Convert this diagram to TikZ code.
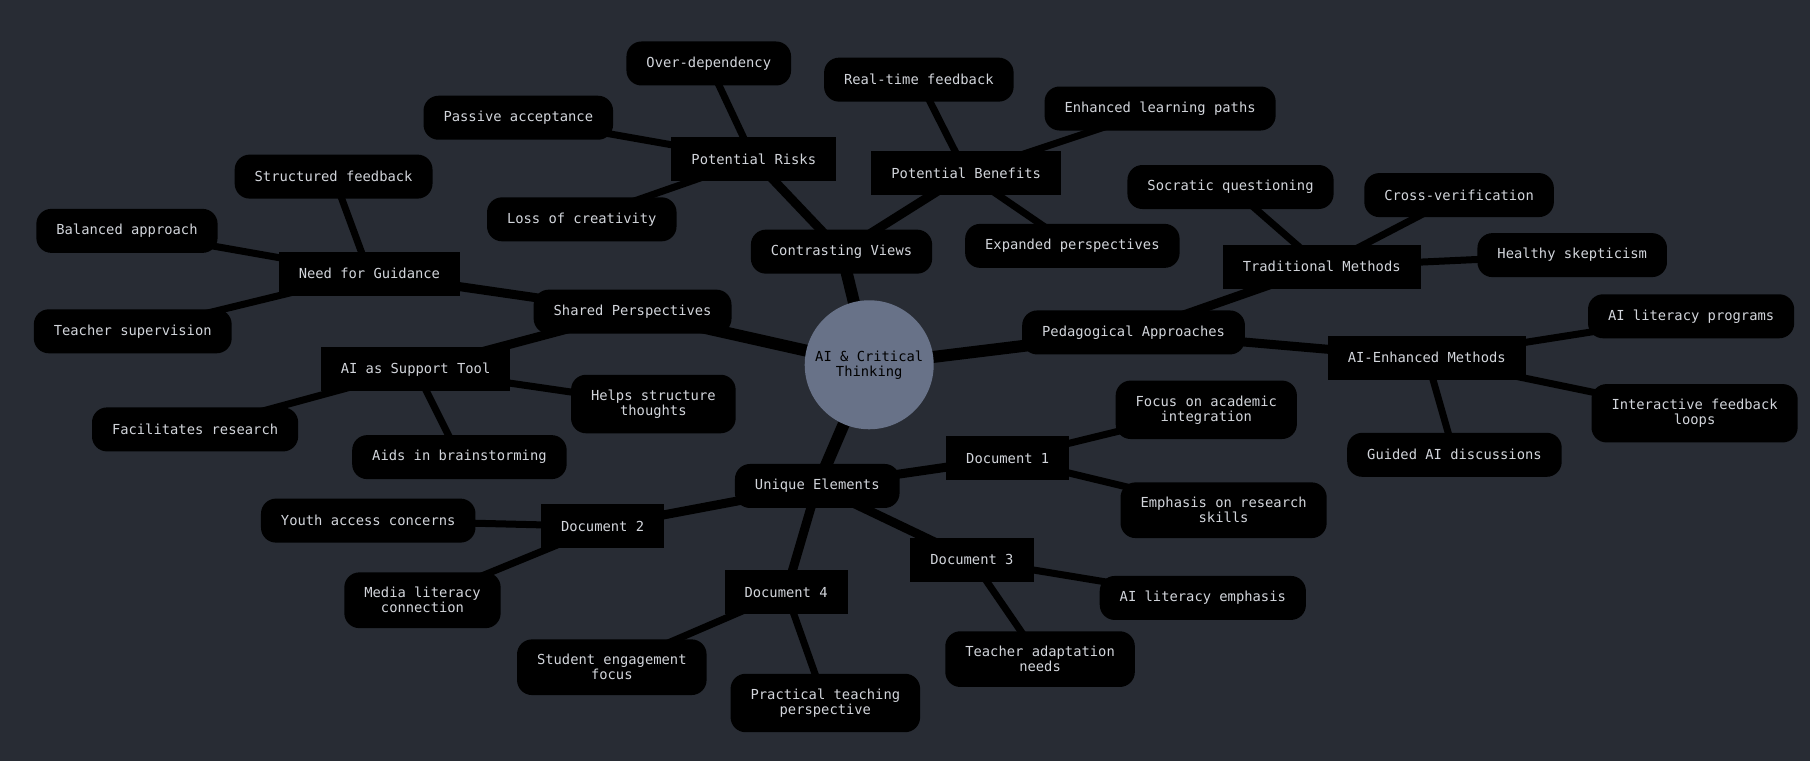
\documentclass[tikz,border=0pt]{standalone}
\usepackage{fontspec}
\setmonofont{DejaVu Sans Mono}
\usepackage{tikz}
\usetikzlibrary{positioning}
\definecolor{bgcol}{HTML}{282C34}
\definecolor{rootcol}{HTML}{687288}
\definecolor{txtcol}{HTML}{D2D5DB}
\pgfdeclarelayer{bglayer}
\pgfdeclarelayer{edgelayer}
\pgfsetlayers{bglayer,edgelayer,main}

\begin{document}
\begin{tikzpicture}[x=1.15434pt, y=-1.15434pt,
	every node/.style={font=\ttfamily\fontsize{13.8}{15}\selectfont, text=txtcol, align=center},
	idea/.style={fill=black, rounded corners=15pt, inner xsep=20pt, inner ysep=15pt, minimum height=44pt},
	topic/.style={fill=black, inner xsep=20pt, inner ysep=15pt, minimum height=44pt},
	root/.style={circle, fill=rootcol, text=black, minimum size=129pt, inner sep=0pt},
	main/.style={line width=12pt},
	sub/.style={line width=9pt},
	leaf/.style={line width=7pt}]
	% Fix the page size
	\useasboundingbox (0,0) rectangle (1568,659);
	\begin{pgfonlayer}{bglayer}
		\fill[bgcol] (0,0) rectangle (1568,659);
	\end{pgfonlayer}
	% Draw root
	\node[root] (ai) at (753,316) {AI \& Critical\\Thinking};
	% Draw contrasting views
	\node[idea] (cv) at (729,218) {Contrasting Views};
	\node[topic] (pr) at (653,138) {Potential Risks};
	\node[idea] (od) at (614,55) {Over-dependency};
	\node[idea] (pa) at (449,102) {Passive acceptance};
	\node[idea] (lc) at (504,190) {Loss of creativity};
	\node[topic] (pb) at (837,150) {Potential Benefits};
	\node[idea] (rt) at (796,69) {Real-time feedback};
	\node[idea] (el) at (1005,94) {Enhanced learning paths};
	\node[idea] (ep) at (929,213) {Expanded perspectives};
	% Draw shared perspectives
	\node[idea] (sp) at (548,270) {Shared Perspectives};
	\node[topic] (ng) at (320,237) {Need for Guidance};
	\node[idea] (sf) at (289,153) {Structured feedback};
	\node[idea] (ba) at (110,200) {Balanced approach};
	\node[idea] (ts) at (115,287) {Teacher supervision};
	\node[topic] (st) at (360,320) {AI as Support Tool};
	\node[idea] (fr) at (169,372) {Facilitates research};
	\node[idea] (ab) at (398,396) {Aids in brainstorming};
	\node[idea] (hs) at (566,350) {Helps structure\\thoughts};
	% Draw pedagogical approaches
	\node[idea] (pe) at (982,288) {Pedagogical Approaches};
	\node[topic] (tm) at (1145,231) {Traditional Methods};
	\node[idea] (sq) at (1066,162) {Socratic questioning};
	\node[idea] (cr) at (1264,169) {Cross-verification};
	\node[idea] (hk) at (1362,221) {Healthy skepticism};
	\node[topic] (am) at (1236,310) {AI-Enhanced Methods};
	\node[idea] (lp) at (1465,274) {AI literacy programs};
	\node[idea] (fl) at (1468,358) {Interactive feedback\\loops};
	\node[idea] (ga) at (1260,394) {Guided AI discussions};
	% Draw unique elements
	\node[idea] (ue) at (708,421) {Unique Elements};
	\node[topic] (d1) at (873,397) {Document 1};
	\node[idea] (fa) at (1045,355) {Focus on academic\\integration};
	\node[idea] (er) at (1060,442) {Emphasis on research\\skills};
	\node[topic] (d2) at (522,456) {Document 2};
	\node[idea] (ya) at (319,451) {Youth access concerns};
	\node[idea] (ml) at (366,520) {Media literacy\\connection};
	\node[topic] (d3) at (842,485) {Document 3};
	\node[idea] (le) at (1042,518) {AI literacy emphasis};
	\node[idea] (ta) at (901,571) {Teacher adaptation\\needs};
	\node[topic] (d4) at (681,513) {Document 4};
	\node[idea] (se) at (530,578) {Student engagement\\focus};
	\node[idea] (pt) at (715,609) {Practical teaching\\perspective};
	% Draw branches
	\begin{pgfonlayer}{edgelayer}
		\foreach \b in {cv,sp,pe,ue}
			\draw[main] (ai.center) -- (\b.center);
		\foreach \a/\b in {cv/pr,cv/pb,sp/ng,sp/st,pe/tm,pe/am,ue/d1,ue/d2,ue/d3,ue/d4}
			\draw[sub] (\a.center) -- (\b.center);
		\foreach \a/\b in {pr/od,pr/pa,pr/lc,pb/rt,pb/el,pb/ep,ng/sf,ng/ba,ng/ts,st/fr,st/ab,st/hs,
			tm/sq,tm/cr,tm/hk,am/lp,am/fl,am/ga,d1/fa,d1/er,d2/ya,d2/ml,d3/le,d3/ta,d4/se,d4/pt}
			\draw[leaf] (\a.center) -- (\b.center);
	\end{pgfonlayer}
\end{tikzpicture}
\end{document}
